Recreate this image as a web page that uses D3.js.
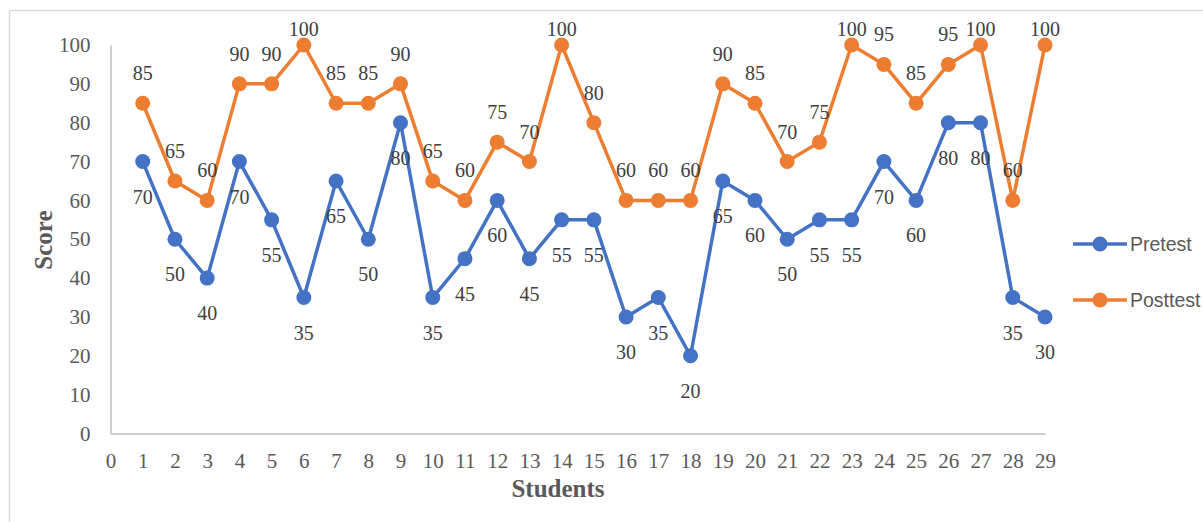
<!DOCTYPE html>
<html>
<head>
<meta charset="utf-8">
<script src="https://cdn.jsdelivr.net/npm/d3@7"></script>
<style>
  body { margin: 0; background: #fff; }
  svg { display: block; }
</style>
</head>
<body>
<svg id="chart" width="1203" height="522"></svg>
<script>
const students = d3.range(1, 30)
const pretest = [70, 50, 40, 70, 55, 35, 65, 50, 80, 35, 45, 60, 45, 55, 55, 30, 35, 20, 65, 60, 50, 55, 55, 70, 60, 80, 80, 35, 30]
const posttest = [85, 65, 60, 90, 90, 100, 85, 85, 90, 65, 60, 75, 70, 100, 80, 60, 60, 60, 90, 85, 70, 75, 100, 95, 85, 95, 100, 60, 100]
const seriesNames = ['Pretest', 'Posttest']
const seriesColors = ['#4472c4', '#ed7d31']
const xTicks = d3.range(0, 30)
const yTicks = d3.range(0, 101, 10)

const svg = d3.select('#chart')
const serif = '"Liberation Serif", "Times New Roman", serif'

// chart frame (only left/top visible in the crop)
svg.append('path')
  .attr('d', 'M9.5,522 V10.5 H1203')
  .attr('fill', 'none')
  .attr('stroke', '#d9d9d9')
  .attr('stroke-width', 1.5)

const x = d3.scaleLinear().domain([0, 29]).range([110.5, 1045])
const y = d3.scaleLinear().domain([0, 100]).range([433.5, 45])

// axes
const xAxis = svg.append('g')
  .attr('transform', `translate(0,${y(0)})`)
  .call(d3.axisBottom(x).tickValues(xTicks).tickSize(0).tickPadding(24))
const yAxis = svg.append('g')
  .attr('transform', `translate(${x(0)},0)`)
  .call(d3.axisLeft(y).tickValues(yTicks).tickSize(0).tickPadding(20))

;[xAxis, yAxis].forEach(a => {
  a.select('.domain').attr('stroke', '#bfbfbf').attr('stroke-width', 1.5)
  a.selectAll('.tick text')
    .attr('fill', '#595959')
    .style('font-family', serif)
    .style('font-size', '21px')
})
xAxis.selectAll('.tick text').attr('dy', '0.5em')

// axis titles
svg.append('text')
  .attr('x', 558).attr('y', 497)
  .attr('text-anchor', 'middle')
  .attr('fill', '#595959')
  .style('font-family', serif)
  .style('font-size', '25px')
  .style('font-weight', 'bold')
  .text('Students')

svg.append('text')
  .attr('transform', 'translate(52,240) rotate(-90)')
  .attr('text-anchor', 'middle')
  .attr('fill', '#595959')
  .style('font-family', serif)
  .style('font-size', '25px')
  .style('font-weight', 'bold')
  .text('Score')

const series = [
  { name: seriesNames[0], values: pretest, color: seriesColors[0], labelDy: 35 },
  { name: seriesNames[1], values: posttest, color: seriesColors[1], labelDy: -30 }
]

const line = d3.line()
  .x((d, i) => x(students[i]))
  .y(d => y(d))

series.forEach(s => {
  const g = svg.append('g')
  g.append('path')
    .datum(s.values)
    .attr('d', line)
    .attr('fill', 'none')
    .attr('stroke', s.color)
    .attr('stroke-width', 3.5)
    .attr('stroke-linejoin', 'round')

  g.selectAll('circle')
    .data(s.values)
    .join('circle')
    .attr('cx', (d, i) => x(students[i]))
    .attr('cy', d => y(d))
    .attr('r', 7.5)
    .attr('fill', s.color)
})

// data labels drawn after all lines; kept inside the chart frame
series.forEach(s => {
  svg.append('g').selectAll('text')
    .data(s.values)
    .join('text')
    .attr('x', (d, i) => x(students[i]))
    .attr('y', d => Math.max(y(d) + s.labelDy, 29))
    .attr('dy', '0.35em')
    .attr('text-anchor', 'middle')
    .attr('fill', '#404040')
    .style('font-family', serif)
    .style('font-size', '20px')
    .text(d => d)
})

// legend
const legend = svg.append('g').attr('transform', 'translate(1073,0)')
series.forEach((s, i) => {
  const ly = 244 + i * 56
  legend.append('line')
    .attr('x1', 0).attr('x2', 54)
    .attr('y1', ly).attr('y2', ly)
    .attr('stroke', s.color)
    .attr('stroke-width', 3.5)
  legend.append('circle')
    .attr('cx', 27).attr('cy', ly).attr('r', 7.5)
    .attr('fill', s.color)
  legend.append('text')
    .attr('x', 57).attr('y', ly)
    .attr('dy', '0.35em')
    .attr('fill', '#595959')
    .style('font-family', '"Liberation Sans", Carlito, Arial, sans-serif')
    .style('font-size', '19.5px')
    .text(s.name)
})
</script>
</body>
</html>
